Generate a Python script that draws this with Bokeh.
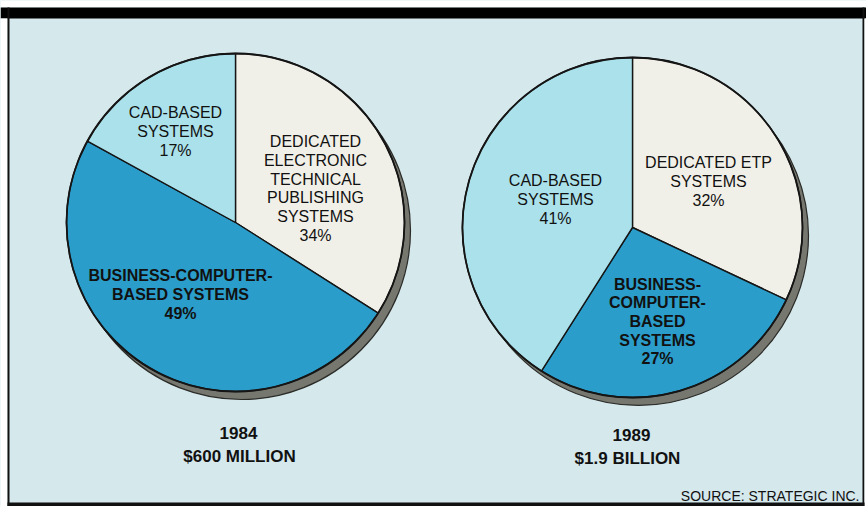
import numpy as np
from bokeh.plotting import figure
from bokeh.models import Range1d, ColumnDataSource
from bokeh.embed import file_html
from bokeh.resources import INLINE
from bokeh.core.properties import value

# ---------------- data ----------------
segments = ["Dedicated ETP", "Business-computer-based", "CAD-based"]
shares_1984 = [34, 49, 17]
shares_1989 = [32, 27, 41]
names_1984 = ["DEDICATED\nELECTRONIC\nTECHNICAL\nPUBLISHING\nSYSTEMS",
              "BUSINESS-COMPUTER-\nBASED SYSTEMS",
              "CAD-BASED\nSYSTEMS"]
names_1989 = ["DEDICATED ETP\nSYSTEMS",
              "BUSINESS-\nCOMPUTER-\nBASED\nSYSTEMS",
              "CAD-BASED\nSYSTEMS"]
years = ["1984", "1989"]
totals = ["$600 MILLION", "$1.9 BILLION"]
source_note = "SOURCE: STRATEGIC INC."

# ---------------- style / layout ----------------
slice_colors = ["#f1f0e8", "#2b9dca", "#abe1ea"]
bold_slice = [False, True, False]
bg_color = "#d5e8ec"
shadow_color = "#76776e"
FONT = "Liberation Sans"

OX, OY = 0, 0             # canvas origin on the page
W, H = 866, 506
def X(px):               # page x -> data x
    return px - OX
def Y(py):               # page y -> data y (y up)
    return (OY + H) - py

pies = [
    dict(shares=shares_1984, names=names_1984, cx=235, cy=222, r=169,
         label_off=[(80, -34), (-55, 72), (-60, -91)],
         year_xy=(238, 432), total_xy=(239, 456)),
    dict(shares=shares_1989, names=names_1989, cx=632, cy=227, r=170,
         label_off=[(76, -46), (25, 94), (-77, -28)],
         year_xy=(631, 434), total_xy=(627, 458)),
]
shadow_dx, shadow_dy = 6, 8

p = figure(width=W, height=H, x_range=Range1d(0, W), y_range=Range1d(0, H),
           output_backend="svg", toolbar_location=None, min_border=0,
           background_fill_color=bg_color, border_fill_color="white",
           outline_line_color=None)
p.axis.visible = False
p.xgrid.visible = False
p.ygrid.visible = False

# frame: white strip on top, thick black bar, side rules, bottom bar
p.quad(left=[0], right=[W], top=[Y(0)], bottom=[Y(7)], fill_color="white", line_color=None)
p.quad(left=[0], right=[W], top=[Y(7)], bottom=[Y(18)], fill_color="black", line_color=None)
p.quad(left=[0], right=[X(7)], top=[Y(18)], bottom=[Y(506)], fill_color="white", line_color=None)
p.quad(left=[X(7)], right=[X(9)], top=[Y(7)], bottom=[Y(506)], fill_color="#111111", line_color=None)
p.quad(left=[X(862)], right=[X(864)], top=[Y(7)], bottom=[Y(506)], fill_color="#111111", line_color=None)
p.quad(left=[X(864)], right=[W], top=[Y(18)], bottom=[Y(506)], fill_color="white", line_color=None)
p.quad(left=[X(7)], right=[X(864)], top=[Y(502)], bottom=[Y(506)], fill_color="#111111", line_color=None)

for pie in pies:
    shares = np.array(pie["shares"], dtype=float)
    frac = shares / shares.sum()
    cum = np.concatenate([[0.0], np.cumsum(frac)])
    start = np.pi / 2 - 2 * np.pi * cum[:-1]
    end = np.pi / 2 - 2 * np.pi * cum[1:]
    cx, cy, r = X(pie["cx"]), Y(pie["cy"]), pie["r"]

    # shadow (disc edge)
    p.circle(x=[cx + shadow_dx], y=[cy - shadow_dy], radius=r,
             fill_color=shadow_color, line_color="#2b2b28", line_width=1.2)

    src = ColumnDataSource(dict(start=start, end=end, color=slice_colors,
                                seg=segments))
    p.wedge(x=cx, y=cy, radius=r, start_angle="start", end_angle="end",
            direction="clock", fill_color="color", line_color="#151515",
            line_width=1.4, source=src)
    p.circle(x=[cx], y=[cy], radius=r, fill_color=None,
             line_color="#151515", line_width=1.8)

    # slice labels
    for i, (name, v) in enumerate(zip(pie["names"], pie["shares"])):
        dx, dy = pie["label_off"][i]
        p.text(x=[cx + dx], y=[cy - dy], text=[f"{name}\n{v}%"],
               text_align="center", text_baseline="middle",
               text_font=value(FONT), text_font_size="16px",
               text_font_style="bold" if bold_slice[i] else "normal",
               text_line_height=1.1, text_color="#111111")

for pie, yr, tot in zip(pies, years, totals):
    yx, yy = pie["year_xy"]
    tx, ty = pie["total_xy"]
    p.text(x=[X(yx)], y=[Y(yy)], text=[yr], text_align="center",
           text_baseline="middle", text_font=value(FONT),
           text_font_size="17px", text_font_style="bold", text_color="#111111")
    p.text(x=[X(tx)], y=[Y(ty)], text=[tot], text_align="center",
           text_baseline="middle", text_font=value(FONT),
           text_font_size="17px", text_font_style="bold", text_color="#111111")

p.text(x=[X(859)], y=[Y(495)], text=[source_note], text_align="right",
       text_baseline="middle", text_font=value(FONT), text_font_size="14px",
       text_color="#111111")

open("out.html", "w").write(file_html(p, INLINE))
